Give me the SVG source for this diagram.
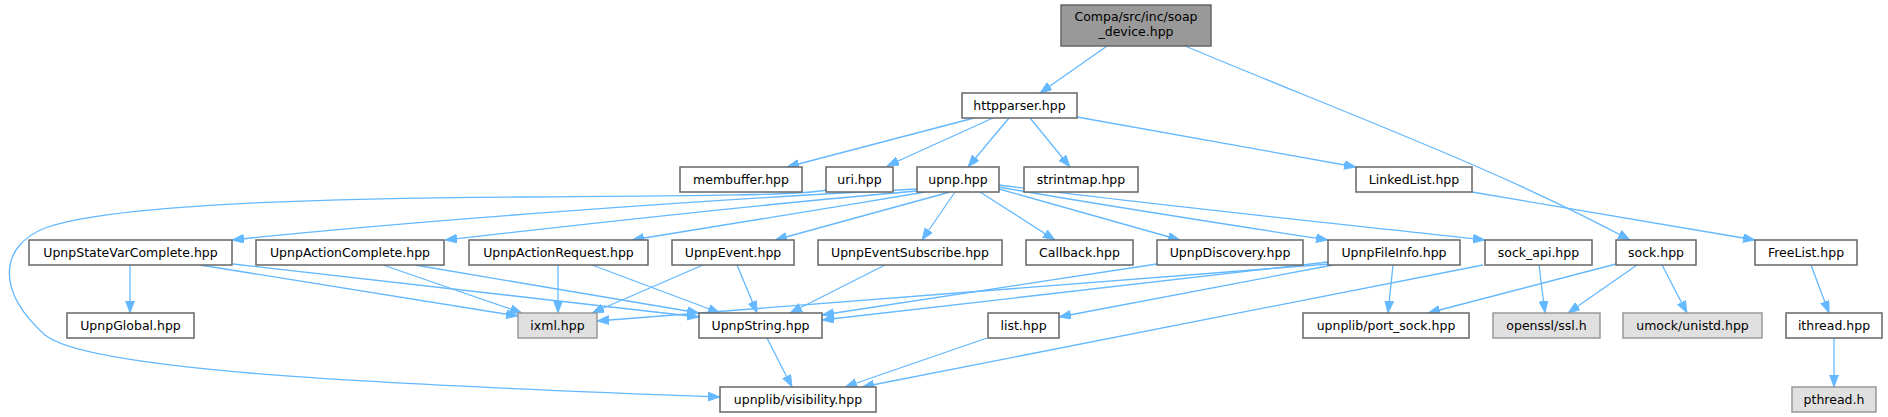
<svg xmlns="http://www.w3.org/2000/svg" width="1888" height="417" viewBox="0 0 1888 417">
<style>
.n rect{fill:#ffffff;stroke:#666666;stroke-width:1.5}
.g rect{fill:#e0e0e0;stroke:#999999;stroke-width:1.5}
.r rect{fill:#999999;stroke:#666666;stroke-width:1.5}
text{font-family:"DejaVu Sans","Liberation Sans",sans-serif;font-size:12.5px;fill:#000;text-anchor:middle}
#edges path{fill:none;stroke:#63b8ff;stroke-width:1.3;marker-end:url(#ah)}
</style>
<defs>
<marker id="ah" markerUnits="userSpaceOnUse" markerWidth="13" markerHeight="10" refX="12" refY="4.5" orient="auto">
<path d="M0,0 L12,4.5 L0,9 z" fill="#63b8ff" stroke="#63b8ff" stroke-width="0.8"/>
</marker>
</defs>
<rect width="1888" height="417" fill="#ffffff"/>
<g id="edges">
<path d="M1107,46 L1040,93"/>
<path d="M1185,46 C1350,115 1500,170 1630,240"/>
<path d="M1472,192 L1755,240"/>
<path d="M974,118 L787,167"/>
<path d="M993,118 L887,166"/>
<path d="M1009,118 L968,167"/>
<path d="M1030,118 L1070,167"/>
<path d="M1077,117 L1356,167"/>
<path d="M826,190 C800,196 650,196 520,197 C330,198 110,204 45,228 C0,246 -5,290 45,335 C90,372 400,385 720,397"/>
<path d="M917,189 C700,200 400,222 232,240"/>
<path d="M917,191 C750,205 550,228 445,240"/>
<path d="M925,192 C820,210 700,228 632,240"/>
<path d="M950,192 L775,240"/>
<path d="M955,192 L922,240"/>
<path d="M980,192 L1055,240"/>
<path d="M999,189 L1180,240"/>
<path d="M999,187 C1100,205 1250,228 1328,240"/>
<path d="M999,185 C1150,205 1380,228 1485,240"/>
<path d="M130,265 L130,313"/>
<path d="M200,265 L518,316"/>
<path d="M233,264 L699,317"/>
<path d="M383,265 L522,313"/>
<path d="M415,265 L699,313"/>
<path d="M558,265 L558,313"/>
<path d="M592,265 L720,313"/>
<path d="M703,265 L592,313"/>
<path d="M737,265 L757,313"/>
<path d="M885,265 L790,313"/>
<path d="M1157,264 L822,315"/>
<path d="M1328,262 L822,320"/>
<path d="M1330,264 L597,321"/>
<path d="M1333,265 L1059,317"/>
<path d="M1393,265 L1388,313"/>
<path d="M1483,265 L862,387"/>
<path d="M1539,265 L1545,313"/>
<path d="M1616,264 L1428,313"/>
<path d="M1637,265 L1568,313"/>
<path d="M1662,265 L1687,313"/>
<path d="M1811,265 L1829,313"/>
<path d="M1834,338 L1834,387"/>
<path d="M767,338 L792,387"/>
<path d="M987,338 L845,387"/>
</g>
<g id="root" class="r"><rect x="1061" y="5" width="150" height="41"/><text x="1136" y="21">Compa/src/inc/soap</text><text x="1136" y="36">_device.hpp</text></g>
<g id="httpparser" class="n"><rect x="962" y="93" width="115" height="25"/><text x="1019.5" y="110">httpparser.hpp</text></g>
<g id="membuffer" class="n"><rect x="680" y="167" width="122" height="25"/><text x="741" y="184">membuffer.hpp</text></g>
<g id="uri" class="n"><rect x="826" y="167" width="67" height="25"/><text x="859.5" y="184">uri.hpp</text></g>
<g id="upnp" class="n"><rect x="917" y="167" width="82" height="25"/><text x="958" y="184">upnp.hpp</text></g>
<g id="strintmap" class="n"><rect x="1024" y="167" width="114" height="25"/><text x="1081" y="184">strintmap.hpp</text></g>
<g id="LinkedList" class="n"><rect x="1356" y="167" width="116" height="25"/><text x="1414" y="184">LinkedList.hpp</text></g>
<g id="UpnpStateVarComplete" class="n"><rect x="29" y="240" width="203" height="25"/><text x="130.5" y="257">UpnpStateVarComplete.hpp</text></g>
<g id="UpnpActionComplete" class="n"><rect x="256" y="240" width="188" height="25"/><text x="350" y="257">UpnpActionComplete.hpp</text></g>
<g id="UpnpActionRequest" class="n"><rect x="469" y="240" width="179" height="25"/><text x="558.5" y="257">UpnpActionRequest.hpp</text></g>
<g id="UpnpEvent" class="n"><rect x="672" y="240" width="122" height="25"/><text x="733" y="257">UpnpEvent.hpp</text></g>
<g id="UpnpEventSubscribe" class="n"><rect x="818" y="240" width="184" height="25"/><text x="910" y="257">UpnpEventSubscribe.hpp</text></g>
<g id="Callback" class="n"><rect x="1026" y="240" width="107" height="25"/><text x="1079.5" y="257">Callback.hpp</text></g>
<g id="UpnpDiscovery" class="n"><rect x="1157" y="240" width="146" height="25"/><text x="1230" y="257">UpnpDiscovery.hpp</text></g>
<g id="UpnpFileInfo" class="n"><rect x="1328" y="240" width="132" height="25"/><text x="1394" y="257">UpnpFileInfo.hpp</text></g>
<g id="sock_api" class="n"><rect x="1485" y="240" width="107" height="25"/><text x="1538.5" y="257">sock_api.hpp</text></g>
<g id="sock" class="n"><rect x="1616" y="240" width="80" height="25"/><text x="1656" y="257">sock.hpp</text></g>
<g id="FreeList" class="n"><rect x="1755" y="240" width="102" height="25"/><text x="1806" y="257">FreeList.hpp</text></g>
<g id="UpnpGlobal" class="n"><rect x="67" y="313" width="127" height="25"/><text x="130.5" y="330">UpnpGlobal.hpp</text></g>
<g id="ixml" class="g"><rect x="518" y="313" width="79" height="25"/><text x="557.5" y="330">ixml.hpp</text></g>
<g id="UpnpString" class="n"><rect x="699" y="313" width="123" height="25"/><text x="760.5" y="330">UpnpString.hpp</text></g>
<g id="list" class="n"><rect x="988" y="313" width="71" height="25"/><text x="1023.5" y="330">list.hpp</text></g>
<g id="port_sock" class="n"><rect x="1303" y="313" width="166" height="25"/><text x="1386" y="330">upnplib/port_sock.hpp</text></g>
<g id="openssl" class="g"><rect x="1493" y="313" width="107" height="25"/><text x="1546.5" y="330">openssl/ssl.h</text></g>
<g id="umock_unistd" class="g"><rect x="1623" y="313" width="139" height="25"/><text x="1692.5" y="330">umock/unistd.hpp</text></g>
<g id="ithread" class="n"><rect x="1786" y="313" width="96" height="25"/><text x="1834" y="330">ithread.hpp</text></g>
<g id="visibility" class="n"><rect x="720" y="387" width="156" height="25"/><text x="798" y="404">upnplib/visibility.hpp</text></g>
<g id="pthread" class="g"><rect x="1792" y="387" width="84" height="25"/><text x="1834" y="404">pthread.h</text></g>
</svg>
